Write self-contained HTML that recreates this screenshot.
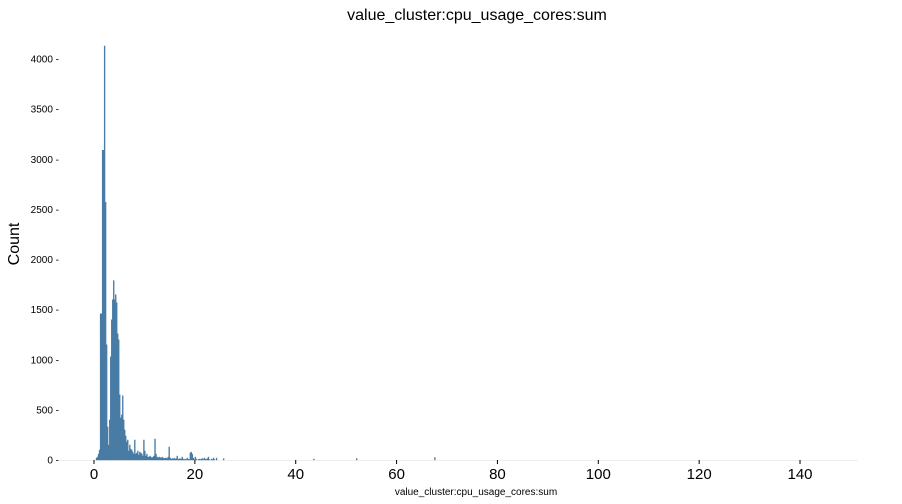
<!DOCTYPE html>
<html><head><meta charset="utf-8"><style>
body{margin:0;background:#fff;}
svg{display:block;font-family:"Liberation Sans","DejaVu Sans",sans-serif;}
</style></head><body>
<svg id="chart" width="902" height="504">
<text x="477" y="20" text-anchor="middle" font-size="16">value_cluster:cpu_usage_cores:sum</text>
<text x="0" y="0" transform="translate(19,244) rotate(-90)" text-anchor="middle" font-size="16">Count</text>
<text x="476" y="495" text-anchor="middle" font-size="10">value_cluster:cpu_usage_cores:sum</text>
<line x1="60" y1="460.5" x2="858" y2="460.5" stroke="#eee"/>
<g id="axes"></g><g id="bars"></g>
</svg>
<script>
const binStart = 0.4;
const binWidth = 0.2;
const counts = [20,30,60,100,1460,1460,3090,3090,4130,2570,1150,330,150,400,1030,1400,1600,1790,1600,1650,1570,1260,1200,650,420,450,640,400,300,240,180,200,90,150,110,100,80,60,200,60,70,90,50,80,70,60,40,200,90,40,60,30,30,40,30,20,30,40,210,60,30,20,30,25,20,30,20,15,20,20,15,30,130,20,10,15,10,20,10,15,40,10,10,15,10,30,10,5,10,5,20,10,5,70,80,60,20,5,30,10,0,5,10,5,10,15,5,20,10,5,15,30,5,0,10,5,20,5,0,20,0,0,0,0,0,0,15];
const outlierValues = [43.5, 52, 67.5];
const outlierCounts = [10, 15, 25];
const xTicks = [0,20,40,60,80,100,120,140];
const yTicks = [0,500,1000,1500,2000,2500,3000,3500,4000];
const xs = v => 94 + v * 5.043;
const ys = c => 460 - c * 0.10025;
const NS = "http://www.w3.org/2000/svg";
const axes = document.getElementById('axes'), bars = document.getElementById('bars');
function mk(tag, attrs, parent){const e=document.createElementNS(NS,tag);for(const k in attrs)e.setAttribute(k,attrs[k]);parent.appendChild(e);return e;}
xTicks.forEach(t=>{
  const l=mk('line',{x1:xs(t),x2:xs(t),y1:460,y2:464,stroke:'#000','stroke-width':1},axes);
  
  
  const tx=mk('text',{x:xs(t),y:479,'text-anchor':'middle','font-size':15},axes);
  tx.textContent=t;
  
  
});
yTicks.forEach(t=>{
  const tx=mk('text',{x:59,y:ys(t)+3.5,'text-anchor':'end','font-size':10},axes);
  tx.textContent=t+' -';
  
  
});
function bar(v,w,c){
  if(c<=0)return;
  const x0=xs(v),x1=xs(v+w);
  const r=mk('rect',{x:x0,y:ys(c),width:Math.max(x1-x0,0.9),height:460-ys(c),fill:'#4a80ab',stroke:'#3d6e97','stroke-width':0.3},bars);
  
  
}
counts.forEach((c,i)=>bar(binStart+i*binWidth,binWidth,c));
outlierValues.forEach((v,i)=>bar(v,binWidth,outlierCounts[i]));
</script>
</body></html>
